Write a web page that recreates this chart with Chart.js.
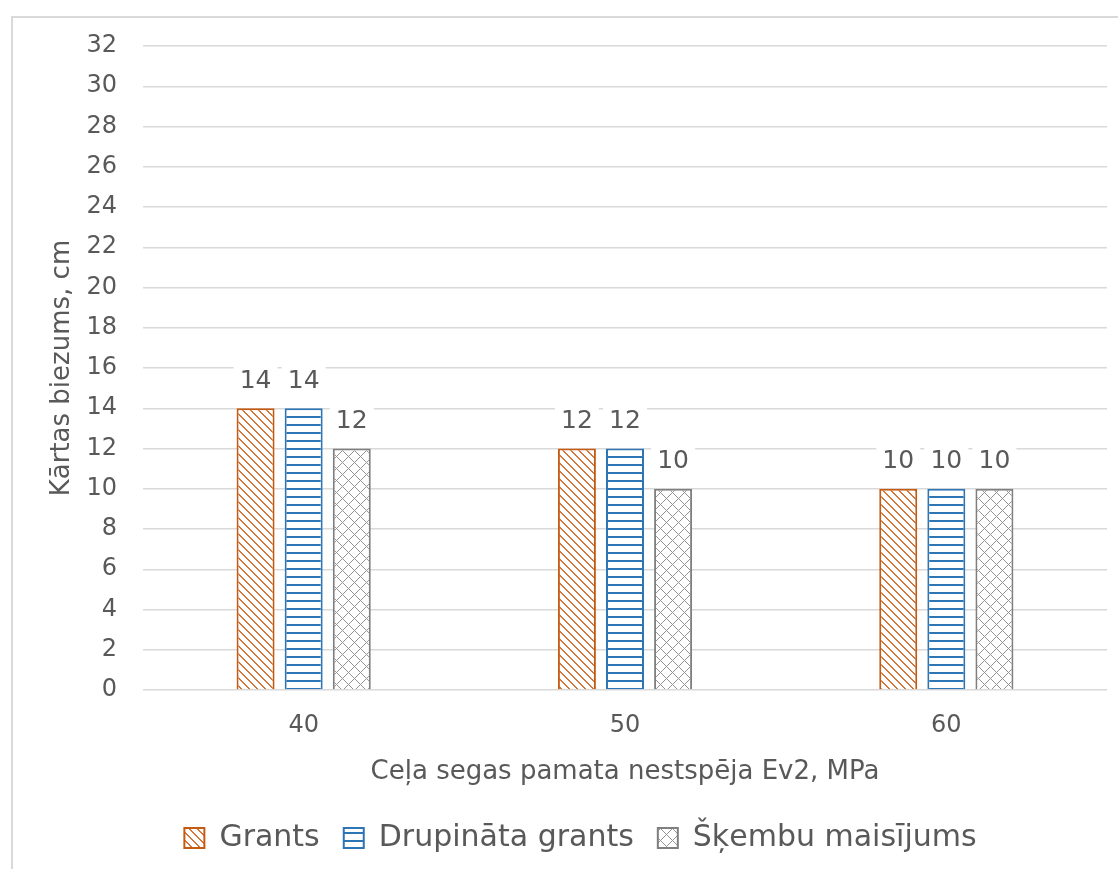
<!DOCTYPE html>
<html>
<head>
<meta charset="utf-8">
<script src="https://cdn.jsdelivr.net/npm/chart.js@4.4.1/dist/chart.umd.min.js"></script>
<style>
html,body{margin:0;padding:0;background:#fff;overflow:hidden;}
canvas{display:block;}
</style>
</head>
<body>
<canvas id="c" width="1118" height="869"></canvas>
<script>
const categories = ['40', '50', '60'];
const grantsValues = [14, 12, 10];
const drupinataValues = [14, 12, 10];
const skembuValues = [12, 10, 10];
const seriesNames = ['Grants', 'Drupināta grants', 'Šķembu maisījums'];
const yTitle = 'Kārtas biezums, cm';
const xTitle = 'Ceļa segas pamata nestspēja Ev2, MPa';

const FONT = "'DejaVu Sans', 'Open Sans', sans-serif";
const TXT = '#595959';

function makePattern(size, bg, fg, test) {
  const c = document.createElement('canvas');
  c.width = size; c.height = size;
  const g = c.getContext('2d');
  g.fillStyle = bg; g.fillRect(0, 0, size, size);
  g.fillStyle = fg;
  for (let y = 0; y < size; y++) for (let x = 0; x < size; x++) if (test(x, y)) g.fillRect(x, y, 1, 1);
  return document.getElementById('c').getContext('2d').createPattern(c, 'repeat');
}
const orangePat = makePattern(8, '#ffffff', '#d4763a', (x, y) => { const d = ((x - y) % 8 + 8) % 8; return d === 0 || d === 1; });
const bluePat = makePattern(8, '#ffffff', '#2E75B6', (x, y) => y === 0 || y === 1);
const grayPat = makePattern(12, '#ffffff', '#939393', (x, y) => ((x - y) % 12 + 12) % 12 === 0 || (x + y) % 12 === 0);

const framePlugin = {
  id: 'frame',
  beforeDraw(chart) {
    const ctx = chart.ctx;
    ctx.save();
    ctx.strokeStyle = '#d9d9d9';
    ctx.lineWidth = 2;
    ctx.beginPath();
    ctx.moveTo(12, 869); ctx.lineTo(12, 17); ctx.lineTo(1118, 17);
    ctx.stroke();
    ctx.restore();
  }
};

const labelPlugin = {
  id: 'barLabels',
  afterDatasetsDraw(chart) {
    const ctx = chart.ctx;
    ctx.save();
    ctx.font = '25px ' + FONT;
    ctx.textAlign = 'center';
    ctx.textBaseline = 'middle';
    chart.data.datasets.forEach((ds, i) => {
      const meta = chart.getDatasetMeta(i);
      meta.data.forEach((bar, j) => {
        const cx = bar.x, cy = bar.y - 28;
        ctx.fillStyle = '#ffffff';
        ctx.fillRect(cx - 22, cy - 17, 44, 34);
        ctx.fillStyle = TXT;
        ctx.fillText(String(ds.data[j]), cx, cy + 1);
      });
    });
    ctx.restore();
  }
};

new Chart(document.getElementById('c'), {
  type: 'bar',
  data: {
    labels: categories,
    datasets: [
      { label: seriesNames[0], data: grantsValues, backgroundColor: orangePat, borderColor: '#C55A11', borderWidth: 2 },
      { label: seriesNames[1], data: drupinataValues, backgroundColor: bluePat, borderColor: '#2E75B6', borderWidth: 2 },
      { label: seriesNames[2], data: skembuValues, backgroundColor: grayPat, borderColor: '#7F7F7F', borderWidth: 2 }
    ]
  },
  options: {
    responsive: false,
    animation: false,
    events: [],
    layout: { padding: { left: 54, right: 11, top: 46, bottom: 6 } },
    datasets: { bar: { categoryPercentage: 0.449, barPercentage: 0.79 } },
    plugins: {
      legend: {
        position: 'bottom',
        labels: { boxWidth: 20, boxHeight: 20, padding: 24, color: TXT, font: { family: FONT, size: 30 } }
      },
      tooltip: { enabled: false }
    },
    scales: {
      x: {
        grid: { display: false, drawTicks: false },
        border: { display: false },
        ticks: { color: TXT, font: { family: FONT, size: 24 }, padding: 21 },
        title: { display: true, text: xTitle, color: TXT, font: { family: FONT, size: 26 }, padding: { top: -4, bottom: 11 } }
      },
      y: {
        min: 0, max: 32,
        afterFit(scale) { scale.width = 89; },
        grid: { color: '#d9d9d9', lineWidth: 1.5, drawTicks: false },
        border: { display: false },
        ticks: { stepSize: 2, color: TXT, font: { family: FONT, size: 24 }, padding: 26 },
        title: { display: true, text: yTitle, color: TXT, font: { family: FONT, size: 26 }, padding: { top: -7, bottom: 0 } }
      }
    }
  },
  plugins: [framePlugin, labelPlugin]
});
</script>
</body>
</html>
